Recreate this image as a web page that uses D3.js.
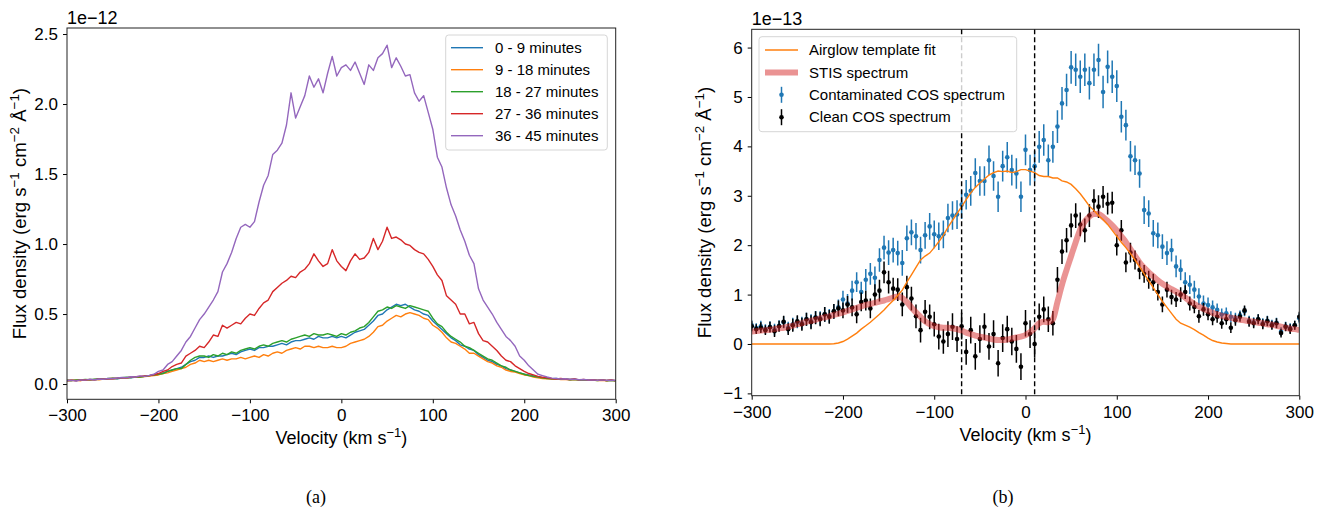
<!DOCTYPE html>
<html lang="en">
<head>
<meta charset="UTF-8">
<title>Flux density vs velocity</title>
<style>
  body { margin: 0; background: #fff; }
  svg { display: block; font-family: "Liberation Sans", Arial, sans-serif; }
  .tick text { font-size: 17px; fill: #000; }
  .tick line { stroke: #000; stroke-width: 1; }
  .frame { fill: none; stroke: #222; stroke-width: 1; }
  .label { font-size: 18px; fill: #000; }
  .ylabel { font-size: 18.6px; fill: #000; }
  .offset { font-size: 18px; fill: #000; }
  .legend text { font-size: 15px; fill: #000; }
  .caption { font-family: "Liberation Serif", "DejaVu Serif", serif; font-size: 18px; }
</style>
</head>
<body>
<svg id="chart" width="1327" height="514"></svg>
<script src="https://cdnjs.cloudflare.com/ajax/libs/d3/7.8.5/d3.min.js"></script>
<script>
// velocity grid shared by every series (km/s)
const velocity = d3.range(-300, 301, 5);

// ---- panel (a): flux in units of 1e-12 ----
const bins = ["0 - 9 minutes", "9 - 18 minutes", "18 - 27 minutes", "27 - 36 minutes", "36 - 45 minutes"];
const binColors = ["#1f77b4", "#ff7f0e", "#2ca02c", "#d62728", "#9467bd"];

const flux0to9 = [
  0.025,0.028,0.024,0.03,0.027,0.032,0.03,0.034,0.036,0.035,0.04,0.038,0.043,0.046,0.044,0.05,0.052,0.055,0.06,0.066,
  0.07,0.08,0.09,0.1,0.11,0.12,0.14,0.16,0.17,0.19,0.19,0.2,0.19,0.2,0.2,0.21,0.22,0.21,0.23,0.24,
  0.25,0.24,0.26,0.26,0.27,0.27,0.28,0.29,0.28,0.3,0.31,0.31,0.32,0.33,0.32,0.34,0.33,0.33,0.34,0.33,
  0.34,0.33,0.35,0.37,0.38,0.39,0.42,0.45,0.49,0.5,0.53,0.55,0.57,0.56,0.57,0.55,0.53,0.52,0.5,0.49,
  0.45,0.42,0.39,0.36,0.33,0.31,0.28,0.27,0.25,0.24,0.21,0.19,0.17,0.16,0.14,0.13,0.11,0.1,0.09,0.08,
  0.07,0.065,0.058,0.05,0.045,0.042,0.038,0.04,0.035,0.036,0.032,0.034,0.03,0.031,0.028,0.03,0.026,0.029,0.025,0.027,0.024
];
const flux9to18 = [
  0.022,0.025,0.027,0.024,0.03,0.028,0.033,0.031,0.036,0.038,0.036,0.041,0.043,0.042,0.048,0.05,0.049,0.054,0.057,0.06,
  0.065,0.075,0.08,0.09,0.1,0.11,0.12,0.14,0.15,0.17,0.16,0.17,0.16,0.17,0.18,0.17,0.18,0.18,0.19,0.18,
  0.19,0.2,0.19,0.21,0.2,0.22,0.23,0.22,0.24,0.25,0.26,0.25,0.27,0.27,0.26,0.27,0.26,0.26,0.27,0.26,
  0.26,0.27,0.29,0.3,0.31,0.32,0.34,0.37,0.41,0.42,0.45,0.47,0.49,0.48,0.5,0.51,0.5,0.49,0.47,0.46,
  0.42,0.4,0.37,0.33,0.3,0.29,0.27,0.25,0.22,0.22,0.2,0.18,0.16,0.15,0.13,0.12,0.1,0.09,0.085,0.075,
  0.065,0.06,0.05,0.045,0.04,0.038,0.035,0.037,0.032,0.034,0.03,0.032,0.028,0.03,0.026,0.029,0.025,0.027,0.023,0.026,0.022
];
const flux18to27 = [
  0.027,0.024,0.03,0.029,0.033,0.031,0.035,0.038,0.034,0.04,0.042,0.04,0.045,0.048,0.047,0.052,0.05,0.056,0.06,0.065,
  0.07,0.075,0.09,0.1,0.11,0.11,0.14,0.17,0.19,0.2,0.2,0.19,0.21,0.2,0.22,0.21,0.23,0.22,0.24,0.25,
  0.26,0.25,0.27,0.28,0.27,0.29,0.3,0.31,0.3,0.32,0.33,0.34,0.35,0.34,0.36,0.35,0.35,0.36,0.35,0.34,
  0.36,0.35,0.37,0.38,0.4,0.41,0.44,0.48,0.52,0.53,0.55,0.54,0.56,0.55,0.54,0.56,0.55,0.54,0.53,0.52,
  0.47,0.43,0.41,0.37,0.34,0.32,0.3,0.27,0.26,0.24,0.22,0.2,0.18,0.17,0.15,0.13,0.12,0.1,0.09,0.08,
  0.07,0.06,0.055,0.05,0.045,0.04,0.037,0.039,0.034,0.035,0.031,0.033,0.029,0.031,0.027,0.029,0.025,0.028,0.024,0.026,0.023
];
const flux27to36 = [
  0.025,0.028,0.024,0.03,0.029,0.033,0.03,0.036,0.035,0.038,0.04,0.042,0.046,0.044,0.05,0.052,0.055,0.058,0.06,0.066,
  0.075,0.09,0.1,0.125,0.14,0.15,0.2,0.22,0.24,0.27,0.26,0.3,0.35,0.34,0.42,0.4,0.42,0.44,0.43,0.47,
  0.5,0.49,0.54,0.58,0.6,0.66,0.69,0.72,0.74,0.77,0.76,0.8,0.82,0.86,0.93,0.88,0.84,0.86,0.96,0.88,
  0.84,0.81,0.88,0.93,0.89,0.9,0.94,1.04,0.96,1.02,1.12,1.04,1.05,1.03,1.0,0.99,0.96,0.94,0.93,0.89,
  0.84,0.78,0.74,0.63,0.6,0.57,0.5,0.5,0.43,0.44,0.36,0.31,0.3,0.27,0.24,0.2,0.17,0.16,0.13,0.11,
  0.09,0.075,0.065,0.055,0.048,0.045,0.04,0.036,0.04,0.034,0.032,0.036,0.03,0.033,0.028,0.031,0.026,0.03,0.025,0.029,0.024
];
const flux36to45 = [
  0.024,0.026,0.022,0.03,0.028,0.033,0.031,0.036,0.034,0.04,0.038,0.043,0.047,0.045,0.052,0.05,0.058,0.055,0.062,0.07,
  0.09,0.1,0.14,0.16,0.2,0.24,0.3,0.34,0.4,0.46,0.5,0.55,0.6,0.66,0.8,0.86,0.94,1.04,1.12,1.14,
  1.12,1.16,1.3,1.42,1.49,1.64,1.67,1.72,1.85,2.08,1.9,1.98,2.06,2.2,2.12,2.18,2.08,2.22,2.34,2.2,
  2.26,2.28,2.24,2.3,2.22,2.14,2.28,2.24,2.33,2.36,2.42,2.26,2.33,2.27,2.2,2.21,2.08,2.02,2.06,1.94,
  1.82,1.62,1.55,1.4,1.28,1.2,1.1,1.02,0.92,0.86,0.68,0.6,0.55,0.5,0.44,0.39,0.34,0.31,0.27,0.2,
  0.17,0.13,0.1,0.07,0.06,0.05,0.042,0.04,0.036,0.038,0.033,0.035,0.031,0.032,0.029,0.03,0.027,0.03,0.026,0.028,0.025
];
const binSeries = [flux0to9, flux9to18, flux18to27, flux27to36, flux36to45];

// ---- panel (b): flux in units of 1e-13 ----
const airglowFit = [
  0,0,0,0,0,0,0,0,0,0,0,0,0,0,0,0,0,0,0.005,0.02,
  0.05,0.1,0.16,0.22,0.3,0.37,0.44,0.52,0.6,0.69,0.79,0.88,0.98,1.09,1.25,1.4,1.55,1.7,1.78,1.84,
  1.95,2.07,2.2,2.36,2.5,2.64,2.78,2.92,3.06,3.17,3.26,3.34,3.42,3.47,3.5,3.49,3.5,3.47,3.49,3.53,
  3.53,3.5,3.47,3.41,3.39,3.39,3.36,3.36,3.3,3.28,3.23,3.14,3.04,2.92,2.79,2.7,2.6,2.52,2.42,2.3,
  2.18,2.06,1.95,1.83,1.7,1.56,1.42,1.28,1.14,1.0,0.86,0.74,0.62,0.5,0.42,0.38,0.34,0.29,0.23,0.18,
  0.12,0.07,0.04,0.02,0.01,0,0,0,0,0,0,0,0,0,0,0,0,0,0,0,0
];
const stisFlux = [
  0.25,0.26,0.27,0.28,0.29,0.3,0.32,0.33,0.35,0.37,0.4,0.42,0.45,0.47,0.49,0.52,0.54,0.56,0.59,0.61,
  0.64,0.67,0.7,0.73,0.76,0.79,0.81,0.83,0.86,0.88,0.91,0.94,0.96,0.93,0.85,0.74,0.64,0.55,0.46,0.4,
  0.36,0.34,0.33,0.33,0.32,0.3,0.27,0.23,0.2,0.17,0.15,0.13,0.11,0.09,0.08,0.08,0.09,0.11,0.13,0.15,
  0.18,0.24,0.32,0.42,0.45,0.44,0.5,0.85,1.2,1.5,1.78,2.06,2.32,2.48,2.58,2.63,2.63,2.57,2.49,2.4,
  2.3,2.18,2.06,1.92,1.78,1.65,1.54,1.45,1.37,1.29,1.22,1.16,1.11,1.06,1.0,0.94,0.87,0.81,0.76,0.71,
  0.67,0.63,0.6,0.57,0.55,0.53,0.51,0.49,0.48,0.46,0.45,0.43,0.42,0.4,0.39,0.37,0.35,0.33,0.31,0.3,0.28
];
const contamFlux = [
  0.38,0.32,0.36,0.3,0.35,0.29,0.37,0.44,0.33,0.4,0.44,0.42,0.5,0.46,0.54,0.52,0.6,0.57,0.66,0.74,
  0.9,0.82,1.08,1.25,1.05,1.3,1.42,1.34,1.7,1.95,1.85,1.9,1.84,1.64,2.14,2.26,2.18,1.9,2.2,2.38,
  2.22,2.18,2.22,2.55,2.6,2.62,2.82,3.02,3.1,3.46,3.3,3.3,3.72,3.4,2.98,3.6,3.78,3.52,3.45,2.98,
  3.93,3.52,3.6,3.99,4.13,3.72,3.99,4.4,4.87,5.14,5.6,5.55,5.41,5.55,5.28,5.55,5.75,5.1,5.61,5.41,
  5.22,4.6,4.43,3.8,3.72,3.45,2.71,2.64,2.24,2.2,1.97,1.84,1.9,1.57,1.5,1.25,1.2,1.1,0.96,0.82,
  0.79,0.74,0.69,0.6,0.62,0.55,0.52,0.58,0.66,0.47,0.44,0.5,0.42,0.47,0.4,0.43,0.25,0.36,0.32,0.38,0.52
];
const contamErr = [
  0.1,0.1,0.11,0.1,0.11,0.12,0.11,0.12,0.12,0.13,0.12,0.13,0.13,0.14,0.13,0.14,0.15,0.14,0.15,0.16,
  0.18,0.19,0.2,0.2,0.21,0.22,0.22,0.23,0.24,0.24,0.25,0.25,0.25,0.26,0.26,0.26,0.27,0.27,0.27,0.27,
  0.28,0.28,0.28,0.29,0.29,0.29,0.29,0.3,0.3,0.3,0.3,0.3,0.3,0.3,0.31,0.31,0.31,0.31,0.31,0.31,
  0.31,0.31,0.31,0.32,0.32,0.32,0.32,0.33,0.33,0.33,0.33,0.33,0.33,0.33,0.33,0.33,0.33,0.33,0.33,0.33,
  0.32,0.32,0.31,0.31,0.3,0.29,0.28,0.27,0.27,0.26,0.25,0.24,0.23,0.22,0.21,0.2,0.19,0.18,0.17,0.16,
  0.15,0.14,0.13,0.12,0.12,0.11,0.11,0.1,0.1,0.1,0.1,0.1,0.1,0.1,0.09,0.1,0.09,0.09,0.1,0.09,0.1
];
const cleanFlux = [
  0.36,0.3,0.33,0.28,0.34,0.26,0.36,0.45,0.3,0.38,0.46,0.4,0.5,0.44,0.53,0.5,0.6,0.55,0.66,0.72,
  0.68,0.8,0.74,0.6,0.85,0.88,0.72,1.0,1.08,1.45,1.25,1.12,1.1,0.8,1.15,0.92,0.56,0.28,0.65,0.55,
  0.4,0.15,0.05,0.2,0.35,0.1,0.36,-0.16,0.28,-0.25,0.1,0.35,-0.05,0.2,-0.39,0.12,0.3,0.05,-0.1,-0.46,
  0.42,0.2,0.0,0.55,0.7,0.5,0.42,1.3,1.87,2.1,2.4,2.6,2.42,2.3,2.6,2.9,2.78,2.98,2.84,2.86,
  2.0,2.3,1.65,1.85,1.7,1.5,1.42,1.3,1.25,1.05,0.8,1.1,0.95,0.9,1.0,1.05,0.82,0.75,0.56,0.7,
  0.6,0.5,0.55,0.42,0.5,0.33,0.48,0.55,0.68,0.45,0.42,0.5,0.4,0.46,0.38,0.42,0.22,0.35,0.3,0.38,0.55
];
const cleanErr = [
  0.1,0.1,0.11,0.1,0.11,0.12,0.11,0.12,0.12,0.13,0.12,0.13,0.13,0.14,0.13,0.14,0.15,0.14,0.15,0.16,
  0.16,0.17,0.18,0.18,0.19,0.2,0.2,0.21,0.22,0.22,0.23,0.22,0.23,0.24,0.23,0.24,0.24,0.25,0.24,0.25,
  0.25,0.26,0.25,0.26,0.27,0.26,0.27,0.26,0.27,0.27,0.28,0.27,0.27,0.28,0.27,0.28,0.27,0.28,0.28,0.27,
  0.27,0.28,0.27,0.27,0.26,0.26,0.25,0.26,0.25,0.25,0.24,0.25,0.24,0.24,0.23,0.23,0.23,0.22,0.22,0.22,
  0.21,0.21,0.2,0.2,0.19,0.19,0.18,0.18,0.17,0.17,0.16,0.16,0.15,0.15,0.15,0.14,0.14,0.13,0.13,0.13,
  0.12,0.12,0.12,0.11,0.11,0.11,0.11,0.1,0.1,0.1,0.1,0.1,0.1,0.1,0.09,0.1,0.09,0.09,0.1,0.09,0.1
];
const cutVelocities = [-70, 10];

const xTicks = [-300, -200, -100, 0, 100, 200, 300];
const yTicksA = [0, 0.5, 1.0, 1.5, 2.0, 2.5];
const yTicksB = [-1, 0, 1, 2, 3, 4, 5, 6];

const svg = d3.select("#chart");
const minus = s => String(s).replace("-", "\u2212");

// text with superscripts: parts = [[text, isSup], ...]
function supText(sel, parts) {
  parts.forEach(([t, sup]) => {
    const ts = sel.append("tspan").text(t);
    if (sup) ts.attr("baseline-shift", "super").attr("font-size", "72%");
  });
  return sel;
}
const fluxLabel = [["Flux density (erg s"], ["\u22121", true], [" cm"], ["\u22122", true], [" \u00c5"], ["\u22121", true], [")"]];
const velLabel = [["Velocity (km s"], ["\u22121", true], [")"]];

function makeAxes(box, yDomain, yTicks, yFmt, offsetText, caption, id) {
  const x = d3.scaleLinear().domain([-300, 300]).range([box.left, box.right]);
  const y = d3.scaleLinear().domain(yDomain).range([box.bottom, box.top]);
  const g = svg.append("g");

  g.append("clipPath").attr("id", id).append("rect")
    .attr("x", box.left).attr("y", box.top)
    .attr("width", box.right - box.left).attr("height", box.bottom - box.top);

  g.append("g").attr("transform", `translate(0,${box.bottom})`)
    .call(d3.axisBottom(x).tickValues(xTicks).tickSize(4).tickPadding(6).tickFormat(d => minus(d)))
    .call(a => a.select(".domain").remove());
  g.append("g").attr("transform", `translate(${box.left},0)`)
    .call(d3.axisLeft(y).tickValues(yTicks).tickSize(4).tickPadding(5).tickFormat(yFmt))
    .call(a => a.select(".domain").remove());

  g.append("text").attr("class", "offset").attr("x", box.left).attr("y", box.top - 4).text(offsetText);

  const cx = (box.left + box.right) / 2;
  supText(g.append("text").attr("class", "label").attr("x", cx).attr("y", box.bottom + 45)
    .attr("text-anchor", "middle"), velLabel);
  const cy = (box.top + box.bottom) / 2;
  supText(g.append("text").attr("class", "ylabel")
    .attr("transform", `translate(${box.left - 41},${cy}) rotate(-90)`)
    .attr("text-anchor", "middle"), fluxLabel);

  g.append("text").attr("class", "caption").attr("x", box.capX).attr("y", 503)
    .attr("text-anchor", "middle").text(caption);

  const plot = g.append("g").attr("clip-path", `url(#${id})`);
  return { x, y, g, plot, box };
}

// ---------- panel (a) ----------
const A = makeAxes({ left: 67, right: 615.7, top: 28, bottom: 399.3, capX: 316 },
  [-0.109, 2.543], yTicksA, d => d3.format(".1f")(d), "1e\u221212", "(a)", "clipA");

const lineA = d3.line().x((d, i) => A.x(velocity[i])).y(d => A.y(d));
binSeries.forEach((s, k) => {
  A.plot.append("path").datum(s).attr("d", lineA)
    .attr("fill", "none").attr("stroke", binColors[k]).attr("stroke-width", 1.4)
    .attr("stroke-linejoin", "round");
});
A.g.append("rect").attr("class", "frame")
  .attr("x", A.box.left).attr("y", A.box.top)
  .attr("width", A.box.right - A.box.left).attr("height", A.box.bottom - A.box.top);

const legA = A.g.append("g").attr("class", "legend");
legA.append("rect").attr("x", 445.7).attr("y", 35).attr("width", 161.6).attr("height", 115)
  .attr("rx", 3).attr("fill", "#fff").attr("fill-opacity", 0.8).attr("stroke", "#d6d6d6");
bins.forEach((b, k) => {
  const yy = 47.7 + k * 22;
  legA.append("line").attr("x1", 451).attr("x2", 483).attr("y1", yy).attr("y2", yy)
    .attr("stroke", binColors[k]).attr("stroke-width", 1.4);
  legA.append("text").attr("x", 495).attr("y", yy).attr("dy", "0.35em").text(b);
});

// ---------- panel (b) ----------
const B = makeAxes({ left: 751.7, right: 1299.3, top: 29.3, bottom: 395.7, capX: 1003 },
  [-1.047, 6.37], yTicksB, d => minus(d), "1e\u221213", "(b)", "clipB");

function errorbars(plot, vals, errs, color) {
  const g = plot.append("g");
  vals.forEach((v, i) => {
    const xx = B.x(velocity[i]);
    g.append("line").attr("x1", xx).attr("x2", xx)
      .attr("y1", B.y(v - errs[i])).attr("y2", B.y(v + errs[i]))
      .attr("stroke", color).attr("stroke-width", 1.5);
    g.append("circle").attr("cx", xx).attr("cy", B.y(v)).attr("r", 2.3).attr("fill", color);
  });
}
errorbars(B.plot, contamFlux, contamErr, "#1f77b4");
errorbars(B.plot, cleanFlux, cleanErr, "#000");

const lineB = d3.line().x((d, i) => B.x(velocity[i])).y(d => B.y(d)).curve(d3.curveMonotoneX);
B.plot.append("path").datum(stisFlux).attr("d", lineB)
  .attr("fill", "none").attr("stroke", "#d62728").attr("stroke-opacity", 0.5).attr("stroke-width", 6);
B.plot.append("path").datum(airglowFit).attr("d", d3.line().x((d, i) => B.x(velocity[i])).y(d => B.y(d)))
  .attr("fill", "none").attr("stroke", "#ff7f0e").attr("stroke-width", 1.4);

cutVelocities.forEach(v => {
  B.g.append("line").attr("x1", B.x(v)).attr("x2", B.x(v))
    .attr("y1", B.box.top).attr("y2", B.box.bottom)
    .attr("stroke", "#000").attr("stroke-width", 1.4).attr("stroke-dasharray", "5,3");
});
B.g.append("rect").attr("class", "frame")
  .attr("x", B.box.left).attr("y", B.box.top)
  .attr("width", B.box.right - B.box.left).attr("height", B.box.bottom - B.box.top);

const legB = B.g.append("g").attr("class", "legend");
legB.append("rect").attr("x", 759).attr("y", 36.7).attr("width", 257.7).attr("height", 95)
  .attr("rx", 3).attr("fill", "#fff").attr("fill-opacity", 0.8).attr("stroke", "#d6d6d6");
const legItems = [
  { name: "Airglow template fit", kind: "line", color: "#ff7f0e" },
  { name: "STIS spectrum", kind: "thick", color: "#d62728" },
  { name: "Contaminated COS spectrum", kind: "err", color: "#1f77b4" },
  { name: "Clean COS spectrum", kind: "err", color: "#000" }
];
legItems.forEach((it, k) => {
  const yy = 50 + k * 22.4;
  if (it.kind === "line") {
    legB.append("line").attr("x1", 765).attr("x2", 798).attr("y1", yy).attr("y2", yy)
      .attr("stroke", it.color).attr("stroke-width", 1.4);
  } else if (it.kind === "thick") {
    legB.append("line").attr("x1", 765).attr("x2", 798).attr("y1", yy).attr("y2", yy)
      .attr("stroke", it.color).attr("stroke-opacity", 0.5).attr("stroke-width", 6);
  } else {
    legB.append("line").attr("x1", 781.5).attr("x2", 781.5).attr("y1", yy - 8).attr("y2", yy + 8)
      .attr("stroke", it.color).attr("stroke-width", 1.5);
    legB.append("circle").attr("cx", 781.5).attr("cy", yy).attr("r", 2.3).attr("fill", it.color);
  }
  legB.append("text").attr("x", 809).attr("y", yy).attr("dy", "0.35em").text(it.name);
});
</script>
</body>
</html>
